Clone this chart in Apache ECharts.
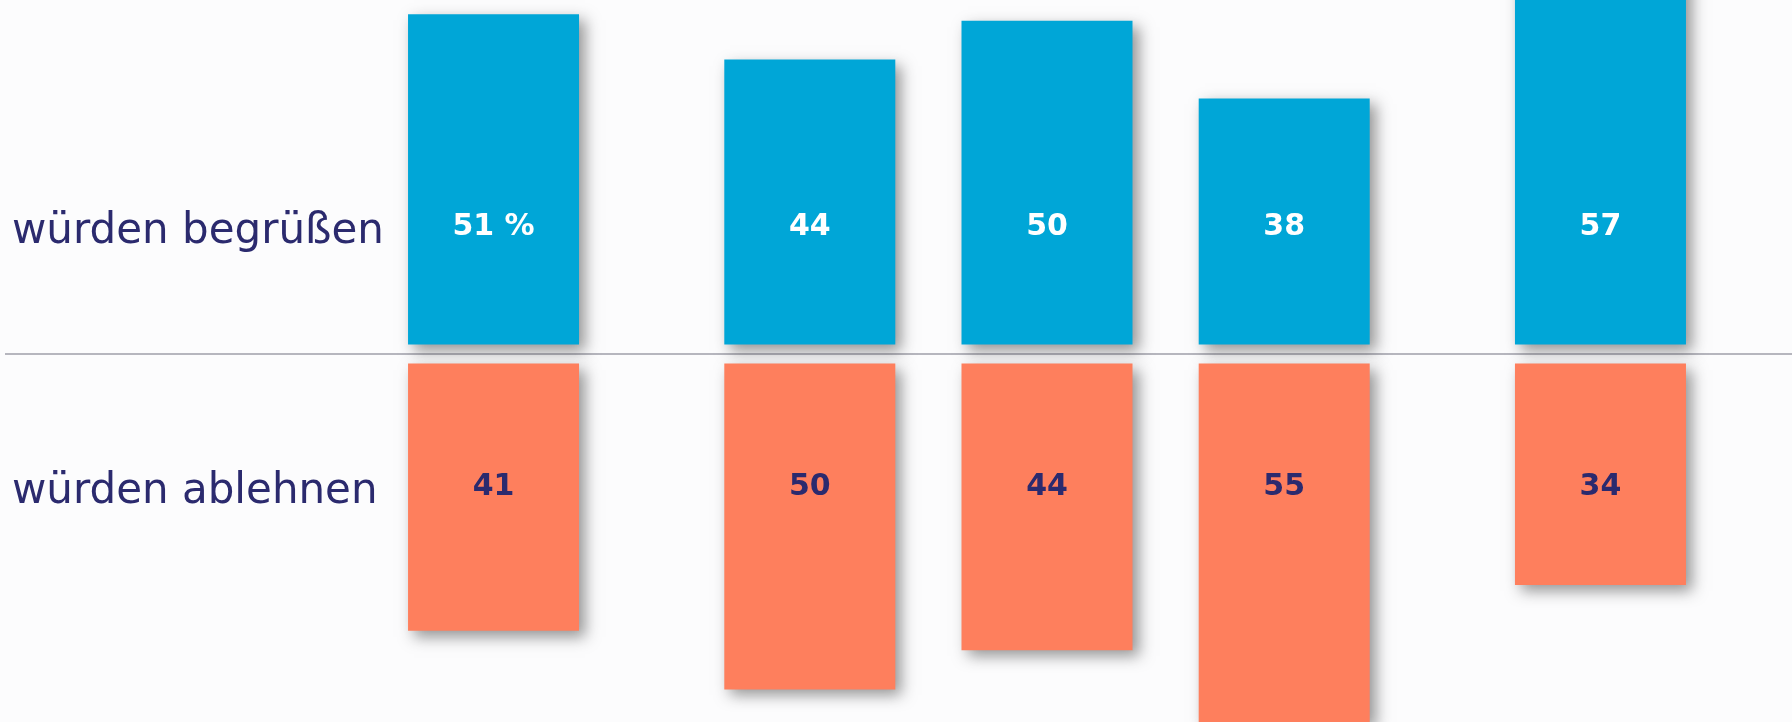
<!DOCTYPE html>
<html>
<head>
<meta charset="utf-8">
<script src="https://cdn.jsdelivr.net/npm/echarts@6/dist/echarts.min.js"></script>
<style>
  html, body { margin: 0; padding: 0; background: #fcfcfd; }
  #chart { width: 1792px; height: 722px; }
</style>
</head>
<body>
<div id="chart"></div>
<script>
// slots along the x axis; the empty ones are the gaps between the bars
const slots = ["A", "", "", "", "B", "", "", "C", "", "", "D", "", "", "", "E"];
const begruessen = [51, null, null, null, 44, null, null, 50, null, null, 38, null, null, null, 57];
const ablehnen = [41, null, null, null, 50, null, null, 44, null, null, 55, null, null, null, 34];
const rowLabels = ["würden begrüßen", "würden ablehnen"];

const BLUE = "#00a6d7";
const ORANGE = "#fe7f5d";
const NAVY = "#2b2a6e";

const chart = echarts.init(document.getElementById("chart"), null, { renderer: "canvas" });

const barShadow = {
  shadowBlur: 14,
  shadowColor: "rgba(45,45,45,0.5)",
  shadowOffsetX: 6,
  shadowOffsetY: 6,
};

const pctFormatter = (p) => (p.dataIndex === 0 ? p.value + " %" : String(p.value));

chart.setOption({
  backgroundColor: "#fcfcfd",
  animation: false,
  title: rowLabels.map((t, i) => ({
    text: t,
    left: 12,
    top: i === 0 ? 211 : 471,
    padding: 0,
    textStyle: {
      fontFamily: "DejaVu Sans",
      fontSize: 42,
      fontWeight: "normal",
      color: NAVY,
    },
  })),
  graphic: [
    {
      type: "line",
      z: 0,
      shape: { x1: 5, y1: 354, x2: 1792, y2: 354 },
      style: { stroke: "#b6b6be", lineWidth: 2 },
    },
  ],
  grid: [
    { left: 454, right: 152, top: 0, height: 344.5 },
    { left: 454, right: 152, top: 363.5, height: 358.5 },
  ],
  xAxis: [
    { type: "category", gridIndex: 0, data: slots, show: false },
    { type: "category", gridIndex: 1, data: slots, show: false },
  ],
  yAxis: [
    { type: "value", gridIndex: 0, min: 0, max: 53.2, show: false, splitLine: { show: false } },
    { type: "value", gridIndex: 1, min: 0, max: 55, inverse: true, show: false, splitLine: { show: false } },
  ],
  series: [
    {
      name: "würden begrüßen",
      type: "bar",
      xAxisIndex: 0,
      yAxisIndex: 0,
      data: begruessen,
      barWidth: 171,
      clip: false,
      itemStyle: Object.assign({ color: BLUE }, barShadow),
      label: {
        show: true,
        position: "insideBottom",
        distance: 102,
        formatter: pctFormatter,
        color: "#ffffff",
        fontFamily: "DejaVu Sans",
        fontWeight: "bold",
        fontSize: 30,
      },
    },
    {
      name: "würden ablehnen",
      type: "bar",
      xAxisIndex: 1,
      yAxisIndex: 1,
      data: ablehnen,
      barWidth: 171,
      clip: false,
      itemStyle: Object.assign({ color: ORANGE }, barShadow),
      label: {
        show: true,
        position: "insideTop",
        distance: 109,
        color: NAVY,
        fontFamily: "DejaVu Sans",
        fontWeight: "bold",
        fontSize: 30,
      },
    },
  ],
});
</script>
</body>
</html>
